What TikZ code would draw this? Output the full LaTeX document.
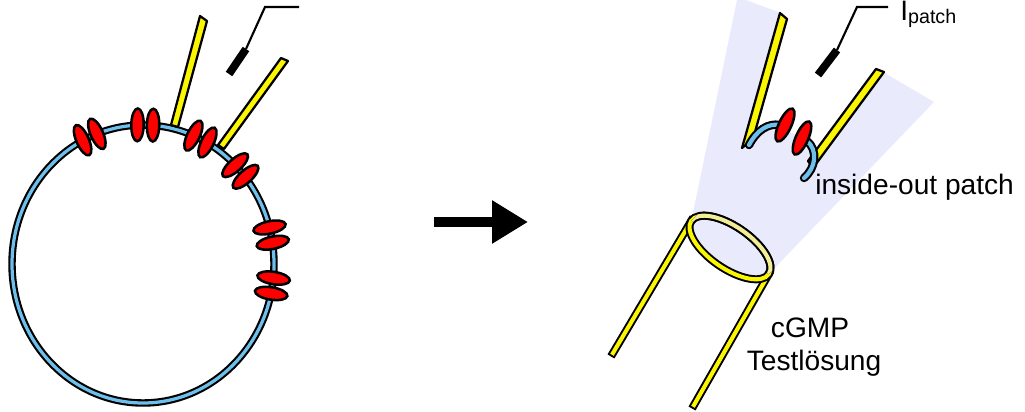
\documentclass[tikz,border=0pt]{standalone}
\usepackage{fontspec}
\setmainfont{Liberation Sans}
\usetikzlibrary{shapes.geometric,arrows.meta}
\definecolor{membraneblue}{RGB}{110,192,236}
\definecolor{glassyellow}{RGB}{250,245,0}
\definecolor{paleyellow}{RGB}{242,238,150}
\definecolor{conelilac}{RGB}{234,234,253}
\definecolor{channelred}{RGB}{255,0,0}
\begin{document}
\begin{tikzpicture}[x=0.025cm,y=-0.025cm,
    membrane/.style={draw=black,double=membraneblue,line width=1.5pt,double distance=2.3pt,line cap=round},
    channel/.style={ellipse,draw=black,fill=channelred,line width=1.8pt,minimum width=0.82cm,minimum height=0.31cm,inner sep=0pt},
    glass/.style={draw=black,fill=glassyellow,line width=1.6pt,line join=round},
    ringshape/.style={ellipse,rotate=-34.6,minimum width=2.35cm,minimum height=1.05cm,inner sep=0pt,outer sep=0pt},
    rod/.style={draw=black,double=glassyellow,line width=1.4pt,double distance=2.9pt,line cap=rect},
    textlabel/.style={font=\fontsize{20}{24}\selectfont,inner sep=0pt}]
    \useasboundingbox (0,0) rectangle (1025,412);

    % cell with channels, pipette and electrode
    \draw[membrane] (143,264) ellipse [x radius=131,y radius=139];
    \draw[glass] (171,125) -- (200,16) -- (207,21) -- (178,127) -- cycle;
    \draw[glass] (218,145) -- (281,58) -- (288,61) -- (224,149) -- cycle;
    \foreach \a [count=\i] in {114,89,64,42,12,-9} {
        \node[channel,rotate=\a] (ChannelA\i) at ({143+131*cos(\a)-7.8*sin(\a)},{264-139*sin(\a)-7.8*cos(\a)}) {};
        \node[channel,rotate=\a] (ChannelB\i) at ({143+131*cos(\a)+7.8*sin(\a)},{264-139*sin(\a)+7.8*cos(\a)}) {};
    }
    \draw[line width=5.6pt] (229,74) -- (246,49);
    \draw[line width=1.5pt] (246,49) -- (265,7) -- (299,7);

    % arrow
    \coordinate (ArrowTail) at (434,222);
    \coordinate (ArrowHead) at (528,222);
    \draw[line width=7.1pt,-{Triangle[length=25.5pt,width=29pt]}] (ArrowTail) -- (ArrowHead);

    % test solution tube and light cone
    \node[ringshape,fill=conelilac] (Ring) at (730,247.5) {};
    \fill[conelilac] (737,0) -- (746,0) -- (781,13) -- (743,148) -- (760,131) -- (775,125)
        -- (792,133) -- (808,142) -- (816,160) -- (804,179) -- (809,161) -- (877,69)
        -- (883,72) -- (934,102) -- (Ring.east) -- (Ring.west) -- cycle;
    \coordinate (LeftFoot) at (613,353);
    \coordinate (RightFoot) at (694,405);
    \draw[rod] (Ring.west) -- (LeftFoot);
    \draw[rod] (Ring.east) -- (RightFoot);
    \node[ringshape,draw=black,double=glassyellow,line width=1.4pt,double distance=2.9pt] (RingRim) at (Ring.center) {};
    \begin{scope}
        \clip (Ring.west) -- (Ring.east) -- (805,240) -- (725,185) -- cycle;
        \node[ringshape,draw=black,double=paleyellow,line width=1.4pt,double distance=2.9pt] (RingTop) at (Ring.center) {};
    \end{scope}

    % pipette with inside-out patch
    \draw[glass] (780,13) -- (787,19) -- (753,139) -- (742,148) -- cycle;
    \draw[glass] (876,69) -- (884,72) -- (813,168) -- (808,161) -- cycle;
    \draw[membrane,double distance=3pt] (749,145) .. controls (757,130) and (768,123) .. (780,125);
    \draw[membrane,double distance=3pt] (807,141) .. controls (818,150) and (816,168) .. (804,178);
    \node[channel,rotate=65,minimum width=0.9cm] (PatchChannelA) at (785,125) {};
    \node[channel,rotate=66,minimum width=0.9cm] (PatchChannelB) at (802,138) {};
    \draw[line width=5.6pt] (818,75) -- (837,50);
    \draw[line width=1.5pt] (837,50) -- (857,7) -- (888,7);

    % labels
    \node[textlabel,anchor=base west] (IPatch) at (900,21) {I\raisebox{-1.8pt}{\fontsize{14}{16}\selectfont patch}};
    \node[textlabel,anchor=base west] (PatchLabel) at (815,195) {inside-out patch};
    \node[textlabel,anchor=base] (CgmpLabel) at (810,337) {cGMP};
    \node[textlabel,anchor=base] (SolutionLabel) at (814,370) {Testlösung};
\end{tikzpicture}
\end{document}
